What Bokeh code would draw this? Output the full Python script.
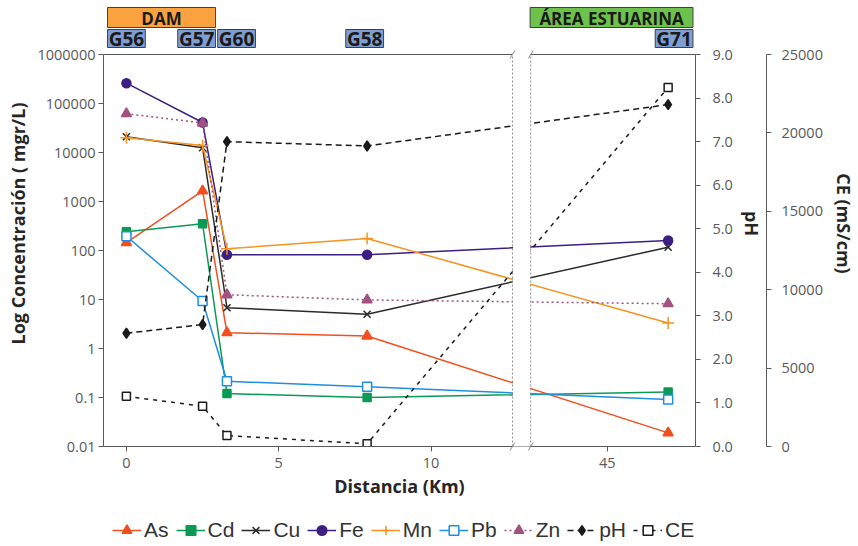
from bokeh.plotting import figure
from bokeh.layouts import column
from bokeh.models import (Range1d, LinearAxis, LinearScale, FixedTicker, NumeralTickFormatter,
                          Legend, LegendItem, BoxAnnotation, Span)
from bokeh.core.properties import value
from bokeh.embed import file_html
from bokeh.resources import INLINE

# --- sampling stations and measured values -------------------------------
stations = ["G56", "G57", "G60", "G58", "G71"]
distance_km = [0.0, 2.5, 3.3, 7.9, 47.0]

as_conc = [145, 1650, 2.1, 1.8, 0.019]
cd_conc = [240, 350, 0.12, 0.10, 0.13]
cu_conc = [21000, 12500, 6.8, 5.0, 117]
fe_conc = [260000, 41000, 82, 82, 160]
mn_conc = [20000, 13900, 108, 176, 3.3]
pb_conc = [195, 9.3, 0.215, 0.165, 0.091]
zn_conc = [62000, 40000, 12.5, 9.8, 8.2]
ph_values = [2.6, 2.8, 7.0, 6.9, 7.85]
ce_values = [3200, 2570, 700, 170, 22900]

conc_ticks = [0.01, 0.1, 1, 10, 100, 1000, 10000, 100000, 1000000]
conc_tick_labels = ["0.01", "0.1", "1", "10", "100", "1000", "10000", "100000", "1000000"]
ph_ticks = [0, 1, 2, 3, 4, 5, 6, 7, 8, 9]
ce_ticks = [0, 5000, 10000, 15000, 20000, 25000]
distance_ticks = [0, 5, 10, 45]

zone_names = ["DAM", "ÁREA ESTUARINA"]

# --- broken distance axis: 12.67 km .. 42.49 km is collapsed into a small gap
BREAK_FROM, BREAK_TO, GAP = 12.67, 42.49, 0.6


def to_axis(km):
    return km if km <= BREAK_FROM else km - (BREAK_TO - BREAK_FROM) + GAP


xd = [to_axis(d) for d in distance_km]
gap_l, gap_r = BREAK_FROM, BREAK_FROM + GAP

# --- layout geometry (pixels) -------------------------------------------
W = 858
MAIN_H, LEG_H = 510, 36
FRAME_H = 446           # frame runs from the top of the canvas to the x axis
AXIS_SPAN = 392         # height of the drawn y axes (0.01 .. 1e6)
ext = FRAME_H / AXIS_SPAN

p = figure(width=W, height=MAIN_H, output_backend="svg", toolbar_location=None,
           x_range=Range1d(-0.752, 18.678),
           y_range=Range1d(0.01, 10 ** (-2 + 8 * ext)), y_axis_type="log",
           min_border_left=103, min_border_right=161, min_border_top=0,
           min_border_bottom=MAIN_H - FRAME_H)
p.outline_line_color = None
p.background_fill_color = "white"
p.xgrid.visible = False
p.ygrid.visible = False

p.extra_y_ranges = {"ph": Range1d(0, 9 * ext), "ce": Range1d(0, 25000 * ext), "px": Range1d(FRAME_H, 0)}
p.extra_y_scales = {"ph": LinearScale(), "ce": LinearScale(), "px": LinearScale()}

AX_COL = "#595959"
TITLE_COL = "#262626"


def style_axis(ax, title):
    ax.axis_label = title
    ax.axis_label_text_font = "Open Sans"
    ax.axis_label_text_font_style = "bold"
    ax.axis_label_text_font_size = "18px"
    ax.axis_label_text_color = TITLE_COL
    ax.major_label_text_font = "Open Sans"
    ax.major_label_text_font_size = "14.5px"
    ax.major_label_text_color = AX_COL
    ax.axis_line_color = AX_COL
    ax.major_tick_line_color = AX_COL
    ax.major_tick_out = 5
    ax.major_tick_in = 0
    ax.minor_tick_line_color = None


# left: concentration (log)
yax = p.yaxis[0]
yax.ticker = FixedTicker(ticks=conc_ticks)
yax.major_label_overrides = dict(zip(conc_ticks, conc_tick_labels))
yax.bounds = (0.01, 1000000)
style_axis(yax, "Log Concentración ( mgr/L)")
yax.major_label_standoff = 3
yax.axis_label_standoff = 4

# bottom: distance
xax = p.xaxis[0]
xax.ticker = FixedTicker(ticks=[to_axis(t) for t in distance_ticks])
xax.major_label_overrides = {to_axis(t): str(t) for t in distance_ticks}
style_axis(xax, "Distancia (Km)")
xax.major_label_standoff = 6
xax.axis_label_standoff = 3

# right: pH and conductivity
ph_axis = LinearAxis(y_range_name="ph", ticker=FixedTicker(ticks=ph_ticks), bounds=(0, 9),
                     formatter=NumeralTickFormatter(format="0.0"))
style_axis(ph_axis, "pH")
ph_axis.major_label_standoff = 12
ph_axis.axis_label_standoff = 4
p.add_layout(ph_axis, "right")

ce_axis = LinearAxis(y_range_name="ce", ticker=FixedTicker(ticks=ce_ticks), bounds=(0, 25000),
                     formatter=NumeralTickFormatter(format="0"))
style_axis(ce_axis, "CE (mS/cm)")
ce_axis.major_label_standoff = 10
ce_axis.axis_label_standoff = 6
p.add_layout(ce_axis, "right")

# --- series ---------------------------------------------------------------
series = [
    ("As", as_conc, "#F24E1E", "triangle", 10, "#F24E1E", "solid", "default"),
    ("Cd", cd_conc, "#0B9A55", "square", 8, "#0B9A55", "solid", "default"),
    ("Cu", cu_conc, "#2B2B2B", "x", 10, "#2B2B2B", "solid", "default"),
    ("Fe", fe_conc, "#3D1E84", "circle", 9, "#3D1E84", "solid", "default"),
    ("Mn", mn_conc, "#F7931E", "cross", 12, "#F7931E", "solid", "default"),
    ("Pb", pb_conc, "#1E8FE0", "square", 9, "white", "solid", "default"),
    ("Zn", zn_conc, "#A2527E", "triangle", 10, "#A2527E", "2 3", "default"),
    ("pH", ph_values, "#1A1A1A", "diamond", 10, "#1A1A1A", "6 4", "ph"),
    ("CE", ce_values, "#1A1A1A", "square", 8, "white", "4 5", "ce"),
]

for name, vals, col, marker, size, fill, dash, rng in series:
    p.line(xd, vals, line_color=col, line_width=1.5, line_dash=dash, y_range_name=rng)
    p.scatter(xd, vals, marker=marker, size=size, line_color=col, fill_color=fill,
              line_width=1.5, y_range_name=rng)

# --- frame top line and the axis break --------------------------------------
p.add_layout(Span(location=1000000, dimension="width", line_color=AX_COL, line_width=1))
p.add_layout(BoxAnnotation(left=gap_l + 0.02, right=gap_r - 0.02, top=1.3e6, bottom=-4,
                           bottom_units="screen", fill_color="white", fill_alpha=1.0,
                           line_color=None))
p.segment(x0=[gap_l, gap_r], y0=[0.01, 0.01], x1=[gap_l, gap_r], y1=[1e6, 1e6],
          line_color="#8c8c8c", line_width=1, line_dash="2 2", level="overlay")
for xe in (gap_l, gap_r):
    p.segment(x0=[xe - 0.08, xe - 0.08], y0=[58, 450], x1=[xe + 0.08, xe + 0.08], y1=[50, 442],
              y_range_name="px", line_color="#8c8c8c", line_width=1, level="overlay")

# --- zone and station header boxes ------------------------------------------
HALF = 0.62
label_shift = [0.0, -0.195, 0.315, -0.08, 0.195]
st_cx = [x + s for x, s in zip(xd, label_shift)]
p.quad(left=[c - HALF for c in st_cx], right=[c + HALF for c in st_cx],
       top=[29] * 5, bottom=[47] * 5, y_range_name="px",
       fill_color="#7F9FD3", line_color="#404040", line_width=1)
p.text(x=st_cx, y=[38.5] * 5, text=stations, y_range_name="px",
       text_align="center", text_baseline="middle", text_font=value("Open Sans"),
       text_font_style="bold", text_font_size="19px", text_color="#1A1A1A")

zone_l = [st_cx[0] - HALF, gap_r - 0.02]
zone_r = [st_cx[1] + HALF, st_cx[4] + HALF]
p.quad(left=zone_l, right=zone_r, top=[7, 7], bottom=[27, 27], y_range_name="px",
       fill_color=["#F9A23F", "#6CC24A"], line_color="#404040", line_width=1)
p.text(x=[(a + b) / 2 for a, b in zip(zone_l, zone_r)], y=[17.5, 17.5], text=zone_names,
       y_range_name="px", text_align="center", text_baseline="middle",
       text_font=value("Open Sans"), text_font_style="bold", text_font_size="17px",
       text_color="#1A1A1A")

# --- legend strip under the chart ---------------------------------------------
# The strip re-draws each series with the same styles; its ranges sit far away
# from the data so only the legend swatches show.
leg = figure(width=W, height=LEG_H, output_backend="svg", toolbar_location=None,
             x_range=Range1d(1000, 1001), y_range=Range1d(1000, 1001),
             x_axis_location=None, y_axis_location=None,
             min_border_left=0, min_border_right=0, min_border_top=0, min_border_bottom=0)
leg.outline_line_color = None
leg.grid.visible = False

items = []
for name, vals, col, marker, size, fill, dash, rng in series:
    ln = leg.line(xd, vals, line_color=col, line_width=1.5, line_dash=dash)
    pt = leg.scatter(xd, vals, marker=marker, size=size * 0.8, line_color=col, fill_color=fill,
                     line_width=1.5)
    items.append(LegendItem(label=name, renderers=[ln, pt]))

legend = Legend(items=items, orientation="horizontal", location=(9, 4),
                label_text_font="Liberation Sans", label_text_font_size="21px",
                label_text_color="#333333", glyph_width=29, glyph_height=24, label_height=24,
                label_standoff=3, spacing=7, padding=0, margin=0,
                border_line_color=None, background_fill_alpha=0)
leg.add_layout(legend)

open("out.html", "w").write(file_html(column(p, leg, spacing=0), INLINE))
